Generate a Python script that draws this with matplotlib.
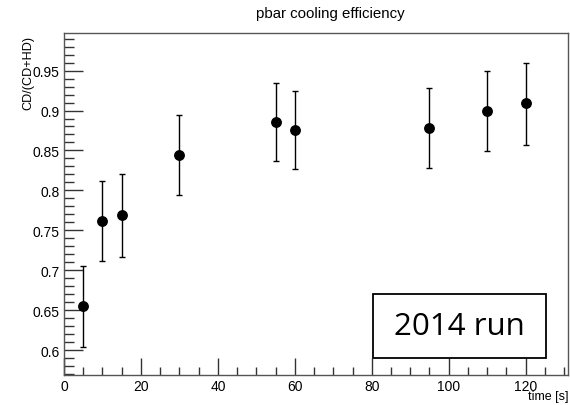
import matplotlib.pyplot as plt
import numpy as np
from matplotlib.ticker import MultipleLocator
from matplotlib.patches import Rectangle

# data
time_s = [5, 10, 15, 30, 55, 60, 95, 110, 120]
eff = [0.655, 0.762, 0.769, 0.844, 0.886, 0.876, 0.878, 0.900, 0.909]
err_lo = [0.051, 0.050, 0.052, 0.050, 0.049, 0.049, 0.050, 0.051, 0.052]
err_hi = [0.050, 0.050, 0.052, 0.050, 0.048, 0.049, 0.050, 0.050, 0.051]

fig = plt.figure(figsize=(5.70, 4.06), dpi=100)
ax = fig.add_axes([64 / 570, 1 - 376 / 406, (568 - 64) / 570, (376 - 34) / 406])

ax.errorbar(time_s, eff, yerr=[err_lo, err_hi], fmt='o', color='black',
            markersize=6.8, elinewidth=1, capsize=2.5, capthick=1)

ax.set_xlim(0, 131)
ax.set_ylim(0.569, 0.997)

ax.xaxis.set_minor_locator(MultipleLocator(5))
ax.yaxis.set_minor_locator(MultipleLocator(0.01))
ax.set_xticks([0, 20, 40, 60, 80, 100, 120])
ax.set_xticklabels(['0', '20', '40', '60', '80', '100', '120'])
ax.set_yticks([0.6, 0.65, 0.7, 0.75, 0.8, 0.85, 0.9, 0.95])
ax.set_yticklabels(['0.6', '0.65', '0.7', '0.75', '0.8', '0.85', '0.9', '0.95'])

ax.tick_params(which='major', direction='in', length=12, width=1, color='#333333',
               labelsize=10, pad=3, top=False, right=False)
ax.tick_params(which='minor', direction='in', length=6, width=1, color='#333333',
               top=False, right=False)
ax.tick_params(axis='y', which='major', length=14)
ax.tick_params(axis='y', which='minor', length=7)
for sp in ax.spines.values():
    sp.set_color('#555555')
    sp.set_linewidth(1)

fig.text(330 / 570, 1 - 14 / 406, 'pbar cooling efficiency', ha='center', va='center',
         fontsize=10.8, family='Liberation Sans')
fig.text(568 / 570, 1 - 397 / 406, 'time [s]', ha='right', va='center',
         fontsize=9, family='Liberation Sans')
fig.text(28 / 570, 1 - 36 / 406, 'CD/(CD+HD)', ha='center', va='top', rotation=90,
         fontsize=9.1, family='Liberation Sans')
for lab in ax.get_xticklabels() + ax.get_yticklabels():
    lab.set_family('Liberation Sans')

# annotation box
fig.patches.append(Rectangle((373 / 570, 1 - 359 / 406), 173 / 570, 64 / 406,
                             transform=fig.transFigure, facecolor='white',
                             edgecolor='black', linewidth=1.3, zorder=5))
fig.text(459 / 570, 1 - 327 / 406, '2014 run', ha='center', va='center',
         fontsize=22.5, family='Open Sans', zorder=6)

fig.savefig('out.png', dpi=100)
